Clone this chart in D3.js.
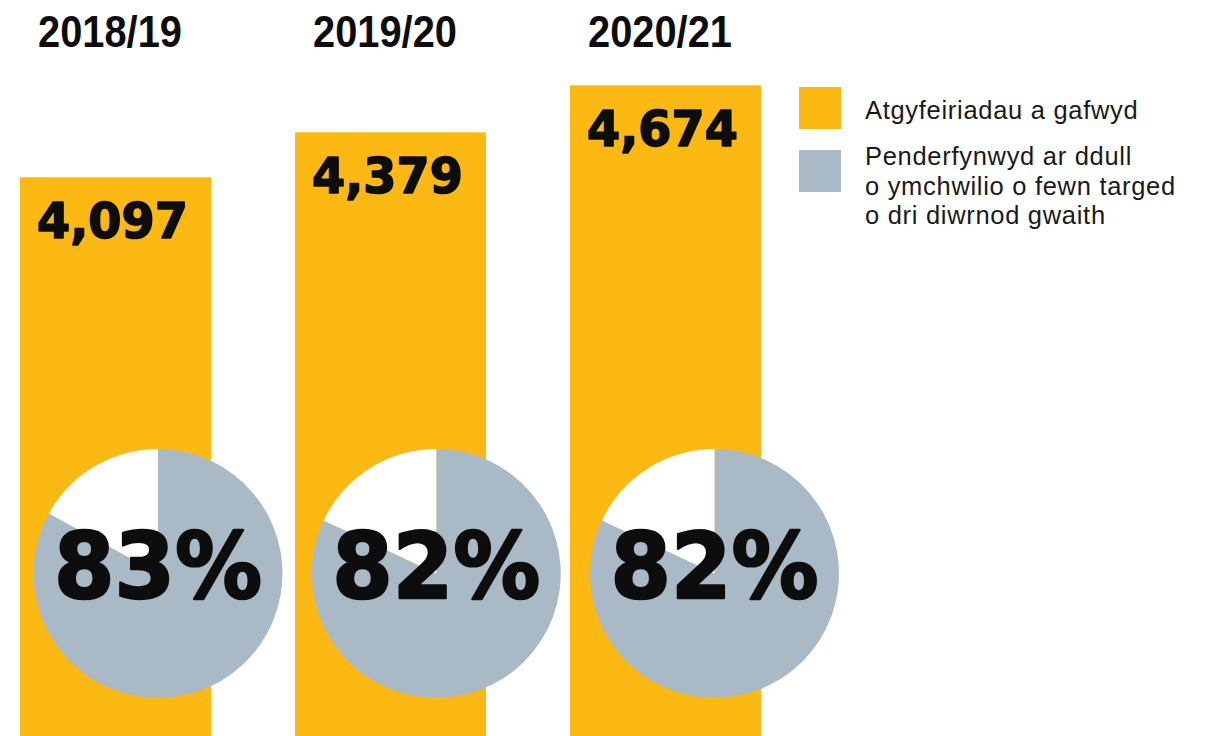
<!DOCTYPE html>
<html>
<head>
<meta charset="utf-8">
<script src="https://cdn.jsdelivr.net/npm/d3@7"></script>
<style>
  html, body { margin: 0; padding: 0; background: #fff; }
  svg { display: block; }
</style>
</head>
<body>
<svg id="chart" width="1207" height="736"></svg>
<script>
// ---- data ----
const years = ["2018/19", "2019/20", "2020/21"];
const referrals = [4097, 4379, 4674];
const withinTarget = [83, 82, 82];
const valueLabels = ["4,097", "4,379", "4,674"];
const legendLabels = [
  ["Atgyfeiriadau a gafwyd"],
  ["Penderfynwyd ar ddull", "o ymchwilio o fewn targed", "o dri diwrnod gwaith"]
];

// ---- styles ----
const W = 1207, H = 736;
const ORANGE = "#FDB913";
const GREY = "#A9BAC6";
const INK = "#0d0d0d";
const svg = d3.select("#chart");

const x = d3.scaleBand().domain(years).range([20, 761]).paddingInner(0.3055).paddingOuter(0);
const y = d3.scaleLinear().domain([4000, 4700]).range([192.7, 81.2]);
const px = d3.scalePoint().domain(years).range([158, 714.5]);
const R = 124.5;
const pieCY = 573.5;

const rows = years.map((yr, i) => ({ yr, v: referrals[i], p: withinTarget[i], lab: valueLabels[i] }));

// bars
svg.append("g").selectAll("rect").data(rows).join("rect")
  .attr("x", d => x(d.yr))
  .attr("y", d => y(d.v))
  .attr("width", x.bandwidth())
  .attr("height", d => H - y(d.v))
  .attr("fill", ORANGE);

// year titles (condensed bold)
svg.append("g").selectAll("text").data(rows).join("text")
  .attr("x", d => x(d.yr) + 18)
  .attr("y", 47)
  .attr("font-family", "'Liberation Sans', Arial, sans-serif")
  .attr("font-weight", "bold")
  .attr("font-size", 45)
  .attr("textLength", 144)
  .attr("lengthAdjust", "spacingAndGlyphs")
  .attr("fill", INK)
  .text(d => d.yr);

// value labels
svg.append("g").selectAll("text").data(rows).join("text")
  .attr("x", d => x(d.yr) + 17)
  .attr("y", d => y(d.v) + 61)
  .attr("font-family", "'DejaVu Sans', sans-serif")
  .attr("font-weight", "bold")
  .attr("font-size", 49)
  .attr("textLength", 151)
  .attr("lengthAdjust", "spacingAndGlyphs")
  .attr("fill", INK)
  .attr("stroke", INK)
  .attr("stroke-width", 1.6)
  .attr("stroke-linejoin", "round")
  .text(d => d.lab);

// pies
const pie = d3.pie().sort(null).value(d => d);
const arc = d3.arc().innerRadius(0).outerRadius(R);
const pg = svg.append("g").selectAll("g").data(rows).join("g")
  .attr("transform", d => `translate(${px(d.yr)},${pieCY})`);
pg.selectAll("path").data(d => pie([d.p, 100 - d.p])).join("path")
  .attr("d", arc)
  .attr("fill", (d, i) => i === 0 ? GREY : "#fff");
pg.append("text")
  .attr("x", -104)
  .attr("y", 24)
  .attr("font-family", "'DejaVu Sans', sans-serif")
  .attr("font-weight", "bold")
  .attr("font-size", 90)
  .attr("textLength", 208)
  .attr("lengthAdjust", "spacingAndGlyphs")
  .attr("fill", INK)
  .attr("stroke", INK)
  .attr("stroke-width", 2.4)
  .attr("stroke-linejoin", "round")
  .text(d => d.p + "%");

// legend
const legend = svg.append("g");
const swatchY = [87, 150];
const textY = [119, 165];
const legendColors = [ORANGE, GREY];
legendLabels.forEach((lines, i) => {
  legend.append("rect")
    .attr("x", 799).attr("y", swatchY[i])
    .attr("width", 42).attr("height", 42)
    .attr("fill", legendColors[i]);
  const t = legend.append("text")
    .attr("font-family", "'Liberation Sans', Arial, sans-serif")
    .attr("font-size", 25.5)
    .attr("letter-spacing", 0.7)
    .attr("fill", "#1a1a1a");
  lines.forEach((ln, j) => {
    t.append("tspan")
      .attr("x", 865)
      .attr("y", textY[i] + j * 29.5)
      .text(ln);
  });
});
</script>
</body>
</html>
